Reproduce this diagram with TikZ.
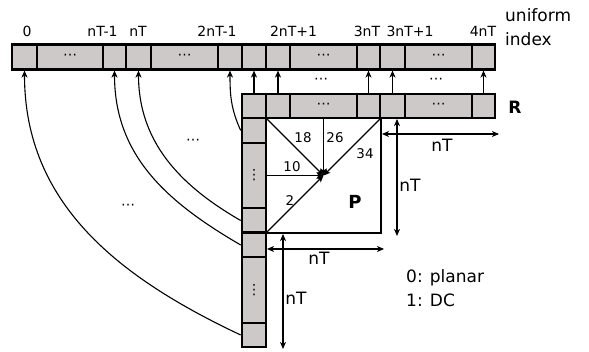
\documentclass[tikz,border=0pt]{standalone}
\usepackage{fontspec}
\setmainfont{DejaVu Sans}
\usetikzlibrary{arrows.meta}
\definecolor{cellgray}{RGB}{205,201,201}

\begin{document}
\begin{tikzpicture}[
 x=1pt,y=-1pt,
 >={Stealth[length=7pt,width=6pt,inset=2pt]},
 every node/.style={inner sep=0pt},
 cell/.style={draw,fill=cellgray,line width=2.6pt,minimum height=24.5pt,minimum width=24pt},
 wide/.style={cell,minimum width=67pt},
 tall/.style={cell,minimum height=65pt},
 dots/.style={font=\fontsize{14}{14}\selectfont},
 idx/.style={font=\fontsize{14}{16}\selectfont},
 num/.style={font=\fontsize{13.4}{15}\selectfont},
 big/.style={font=\fontsize{17}{24}\selectfont},
 link/.style={line width=1.1pt,->},
 dim/.style={line width=1.1pt,<->}
]
 \useasboundingbox (0,0) rectangle (589,352);

 % uniform index row
 \node[cell,minimum width=25pt] (t0) at (24.5,57) {};
 \node[wide,minimum width=66pt,dots] (td1) at (70,57) {⋯};
 \node[cell,minimum width=23pt] (tn1) at (114.5,57) {};
 \node[cell,minimum width=25pt] (tn) at (138.5,57) {};
 \node[wide,dots] (td2) at (184.5,57) {⋯};
 \node[cell] (t2n1) at (230,57) {};
 \node[cell] (t2n) at (254,57) {};
 \node[cell] (t2np) at (278,57) {};
 \node[wide,dots] (td3) at (323.5,57) {⋯};
 \node[cell,minimum width=23pt] (t3n) at (368.5,57) {};
 \node[cell,minimum width=25pt] (t3np) at (392.5,57) {};
 \node[wide,dots] (td4) at (438.5,57) {⋯};
 \node[cell,minimum width=23pt] (t4n) at (483.5,57) {};

 \node[idx] (l0) at (27,31) {0};
 \node[idx] (ln1) at (102.5,31) {nT-1};
 \node[idx] (ln) at (138,31) {nT};
 \node[idx] (l2n1) at (217,31) {2nT-1};
 \node[idx] (l2np) at (293.5,31) {2nT+1};
 \node[idx] (l3n) at (367,31) {3nT};
 \node[idx] (l3np) at (410,31) {3nT+1};
 \node[idx] (l4n) at (483,31) {4nT};
 \node[big,align=left,anchor=west] (uni) at (505,27) {uniform\\index};

 % row R
 \node[cell,minimum height=24pt] (r0) at (254,106) {};
 \node[cell,minimum height=24pt] (r1) at (278,106) {};
 \node[wide,minimum height=24pt,dots] (rd1) at (323.5,106) {⋯};
 \node[cell,minimum width=23pt,minimum height=24pt] (r2) at (368.5,106) {};
 \node[cell,minimum width=25pt,minimum height=24pt] (r3) at (392.5,106) {};
 \node[wide,minimum height=24pt,dots] (rd2) at (438.5,106) {⋯};
 \node[cell,minimum width=23pt,minimum height=24pt] (r4) at (483.5,106) {};
 \node[font=\fontsize{17}{20}\selectfont\bfseries] (R) at (515,107) {R};

 % column
 \node[cell,minimum height=25pt] (c1) at (254,130.5) {};
 \node[tall,dots] (cd1) at (254,175.5) {⋮};
 \node[cell,minimum height=25pt] (c2) at (254,220.5) {};
 \node[cell] (c3) at (254,245) {};
 \node[tall,minimum height=66pt,dots] (cd2) at (254,290) {⋮};
 \node[cell,minimum height=24pt] (c4) at (254,335) {};

 \draw[link] (r0.north) -- (t2n.south);
 \draw[link] (r1.north) -- (t2np.south);
 \draw[link] (r2.north) -- (t3n.south);
 \draw[link] (r3.north) -- (t3np.south);
 \draw[link] (r4.north) -- (t4n.south);
 \node[dots] (gap1) at (321,81) {⋯};
 \node[dots] (gap2) at (436,81) {⋯};

 \draw[link] (c1.west) .. controls +(-10,-22) and +(0,24) .. (t2n1.south);
 \draw[link] (c2.west) .. controls +(-61,-35) and +(0,71) .. (tn.south);
 \draw[link] (c3.west) .. controls +(-74,-43) and +(0,85) .. (tn1.south);
 \draw[link] (c4.west) .. controls +(-121,-57) and +(0,134) .. (t0.south);
 \node[dots] (gap3) at (193,142) {⋯};
 \node[dots] (gap4) at (128,207) {⋯};

 % block P
 \node[draw,line width=2.6pt,outer sep=0pt,minimum width=115pt,minimum height=115pt] (P) at (323.5,175.5) {};
 \draw[link] (P.north west) -- (P.center);
 \draw[link] (P.north) -- (P.center);
 \draw[link] (P.west) -- (P.center);
 \draw[link] (P.south west) -- (P.center);
 \draw[link] (P.north east) -- (P.center);
 \node[num] (w18) at (303,138) {18};
 \node[num] (w26) at (335,138) {26};
 \node[num] (w10) at (292,167) {10};
 \node[num] (w2) at (290,201) {2};
 \node[num] (w34) at (365,154) {34};
 \node[font=\fontsize{18}{20}\selectfont\bfseries] (Pl) at (355,202) {P};

 % sizes
 \coordinate (ha) at (382,134);
 \coordinate (hb) at (499,134);
 \coordinate (va) at (397,119);
 \coordinate (vb) at (397,236);
 \coordinate (hc) at (267,249);
 \coordinate (hd) at (384,249);
 \coordinate (vc) at (283,234);
 \coordinate (vd) at (283,349);
 \draw[dim] (ha) -- (hb);
 \draw[dim] (va) -- (vb);
 \draw[dim] (hc) -- (hd);
 \draw[dim] (vc) -- (vd);
 \node[big] (s1) at (442,145) {nT};
 \node[big] (s2) at (410,185) {nT};
 \node[big] (s3) at (319,258) {nT};
 \node[big] (s4) at (296,298) {nT};

 \node[big,align=left,anchor=west] (key) at (406,288) {0: planar\\1: DC};
\end{tikzpicture}
\end{document}
